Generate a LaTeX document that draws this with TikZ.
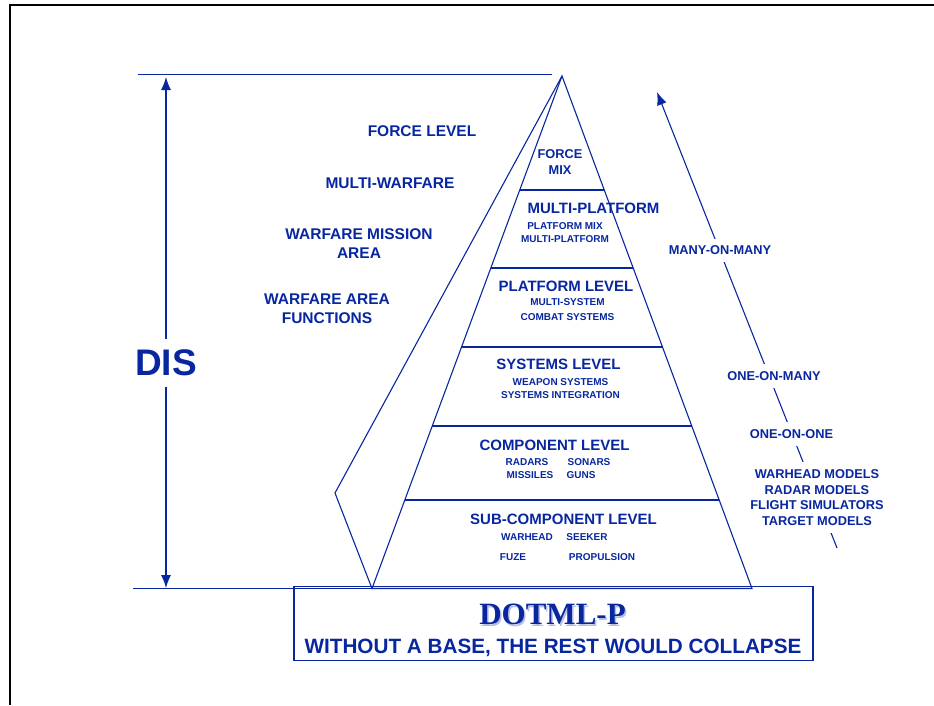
\documentclass[tikz,border=0pt]{standalone}
\usepackage{fontspec}
\setmainfont{Liberation Sans}
\newfontfamily\dotmlfont{Liberation Serif}
\usepackage{xcolor}
\usepackage{tikz}
\usetikzlibrary{calc}
\usetikzlibrary{arrows.meta}
\definecolor{navy}{RGB}{8,38,160}

\begin{document}
\begin{tikzpicture}[x=1pt,y=-1pt,line width=1.1pt,color=navy,
  every node/.style={inner sep=1pt},
  side/.style={font=\fontsize{15.5}{19}\selectfont\bfseries,align=center},
  lvl/.style={font=\fontsize{15}{18}\selectfont\bfseries},
  item/.style={font=\fontsize{10}{13}\selectfont\bfseries,align=center},
  mode/.style={font=\fontsize{12.8}{15.7}\selectfont\bfseries,align=center,fill=white,inner sep=7pt},
  tip/.style={-{Latex[length=13pt,width=10pt]}}]

  \useasboundingbox (0,0) rectangle (934,705);
  \draw[black,line width=2pt] (10,705) -- (10,5) -- (934,5);

  % DIS scale on the left
  \coordinate (topleft) at (138,74.5);
  \coordinate (topright) at (552,74.5);
  \coordinate (baseleft) at (133,588.5);
  \coordinate (distop) at (166,77);
  \coordinate (disbot) at (166,588);
  \draw (topleft) -- (topright);
  \node[font=\fontsize{37}{40}\selectfont\bfseries,inner sep=10pt] at (166,363) (dis) {DIS};
  \draw[tip] (dis) -- (distop);
  \draw[tip] (dis) -- (disbot);

  % pyramid
  \coordinate (apex) at (562,76);
  \coordinate (bl) at (372,588.5);
  \coordinate (br) at (752,588.5);
  \coordinate (back) at (335,493);
  \draw (baseleft) -- (bl);
  \draw (bl) -- (apex) -- (br) -- cycle;
  \draw (apex) -- (back) -- (bl);
  \foreach \y in {190,268,347,426,500}
    \draw ($(apex)!{(\y-76)/512.5}!(bl)$) -- ($(apex)!{(\y-76)/512.5}!(br)$);

  \node[side] at (422,131) (forcelvl) {FORCE LEVEL};
  \node[side] at (390,183) (multiwar) {MULTI-WARFARE};
  \node[side] at (359,243.5) (mission) {WARFARE MISSION\\AREA};
  \node[side] at (327,308.5) (areafn) {WARFARE AREA\\FUNCTIONS};

  \node[font=\fontsize{12.8}{16}\selectfont\bfseries,align=center] at (560,162) (forcemix) {FORCE\\MIX};
  \node[lvl] at (593.5,208) (mplat) {MULTI-PLATFORM};
  \node[item] at (565,233) (mplatx) {PLATFORM MIX\\MULTI-PLATFORM};
  \node[lvl] at (566,286.5) (plat) {PLATFORM LEVEL};
  \node[item] at (567.5,309.5) (platx) {MULTI-SYSTEM\\[2pt]COMBAT SYSTEMS};
  \node[lvl] at (558.5,364.5) (sys) {SYSTEMS LEVEL};
  \node[item] at (560.5,388.5) (sysx) {WEAPON SYSTEMS\\SYSTEMS INTEGRATION};
  \node[lvl] at (554.5,445.5) (comp) {COMPONENT LEVEL};
  \node[item] at (527,462) (radars) {RADARS};
  \node[item] at (589,462) (sonars) {SONARS};
  \node[item] at (530,475) (missiles) {MISSILES};
  \node[item] at (581,475) (guns) {GUNS};
  \node[lvl] at (563.5,519) (subcomp) {SUB-COMPONENT LEVEL};
  \node[item] at (527,537) (warhead) {WARHEAD};
  \node[item] at (587,537) (seeker) {SEEKER};
  \node[item] at (513,557) (fuze) {FUZE};
  \node[item] at (602,557) (propul) {PROPULSION};

  % base box
  \node[draw,minimum width=519pt,minimum height=73.5pt,inner sep=0pt] at (553.5,623.5) (basebox) {};
  \node[font=\fontsize{31}{34}\dotmlfont\bfseries,text=navy!30] at (554,616) (dotshadow) {DOTML-P};
  \node[font=\fontsize{31}{34}\dotmlfont\bfseries] at (552.5,614.5) (dotml) {DOTML-P};
  \node[font=\fontsize{20.7}{24}\selectfont\bfseries] at (553,648) (collapse) {WITHOUT A BASE, THE REST WOULD COLLAPSE};

  % interaction arrow on the right
  \coordinate (rtail) at (837,548);
  \coordinate (rhead) at (657,92);
  \draw[tip] (rtail) -- (rhead);
  \node[mode] at (720,250.5) (manymany) {MANY-ON-MANY};
  \node[mode] at (774,376) (onemany) {ONE-ON-MANY};
  \node[mode] at (791.5,434) (oneone) {ONE-ON-ONE};
  \node[mode] at (817,497.5) (models) {WARHEAD MODELS\\RADAR MODELS\\FLIGHT SIMULATORS\\TARGET MODELS};

\end{tikzpicture}
\end{document}
